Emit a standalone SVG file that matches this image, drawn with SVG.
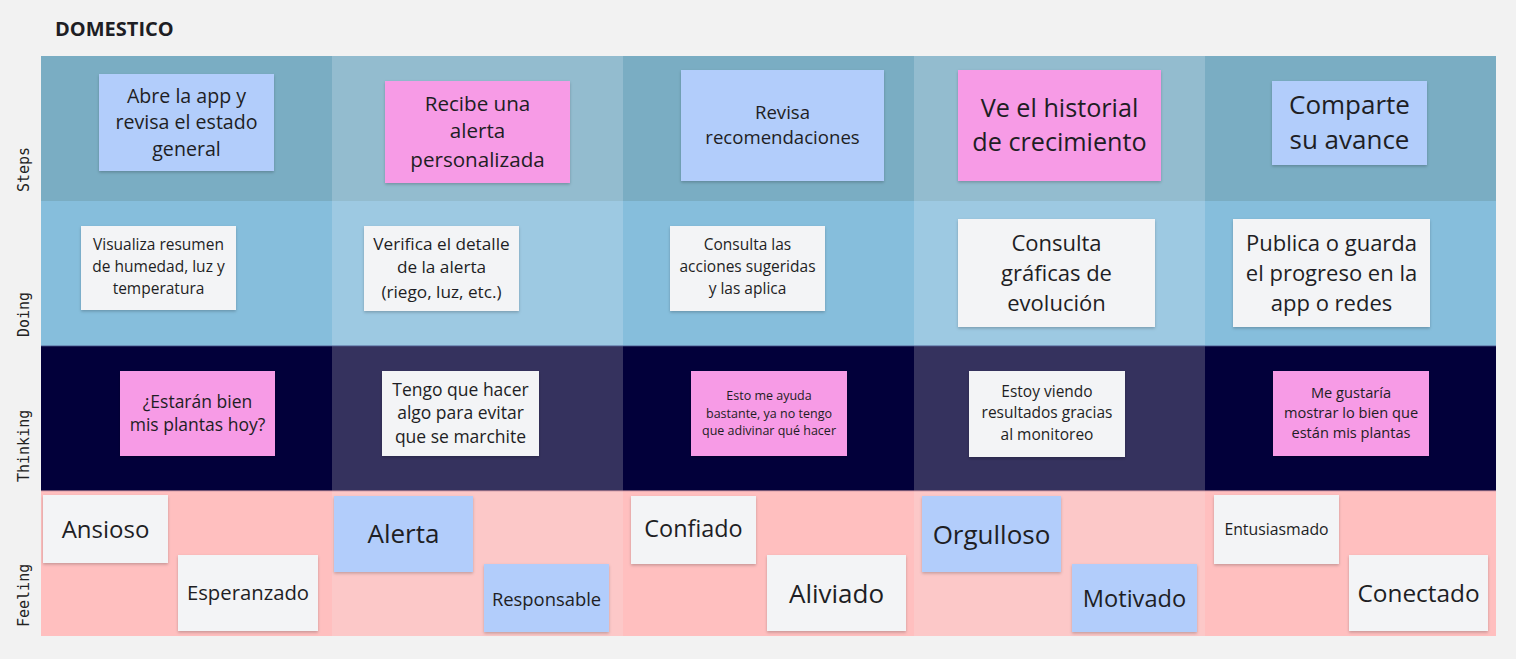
<svg xmlns="http://www.w3.org/2000/svg" width="1516" height="659" viewBox="0 0 1516 659">
<defs>
<filter id="sh" x="-10%" y="-10%" width="120%" height="130%">
<feDropShadow dx="0" dy="1.5" stdDeviation="1.5" flood-color="#000" flood-opacity="0.22"/>
</filter>
<style>
text{font-family:"Open Sans","Noto Sans","DejaVu Sans",sans-serif;fill:#1e1e24;text-anchor:middle}
.lbl{font-family:"DejaVu Sans Mono","Liberation Mono",monospace;font-size:15px;fill:#222;text-anchor:start}
.blue{fill:#b2cdfb}
.pink{fill:#f79be6}
.white{fill:#f3f4f6}
.n rect{filter:url(#sh)}
</style>
</defs>
<rect width="1516" height="659" fill="#f2f2f2"/>
<text x="55" y="36" style="font-weight:bold;font-size:20px;text-anchor:start" fill="#1a1a1a">DOMESTICO</text>

<g id="lanes">
<rect x="41" y="56" width="291" height="145" fill="#7aadc3"/>
<rect x="332" y="56" width="291" height="145" fill="#93bccf"/>
<rect x="623" y="56" width="291" height="145" fill="#7aadc3"/>
<rect x="914" y="56" width="291" height="145" fill="#93bccf"/>
<rect x="1205" y="56" width="291" height="145" fill="#7aadc3"/>
<rect x="41" y="201" width="291" height="145" fill="#86bedc"/>
<rect x="332" y="201" width="291" height="145" fill="#9dc9e2"/>
<rect x="623" y="201" width="291" height="145" fill="#86bedc"/>
<rect x="914" y="201" width="291" height="145" fill="#9dc9e2"/>
<rect x="1205" y="201" width="291" height="145" fill="#86bedc"/>
<rect x="41" y="346" width="291" height="145" fill="#02003a"/>
<rect x="332" y="346" width="291" height="145" fill="#35325e"/>
<rect x="623" y="346" width="291" height="145" fill="#02003a"/>
<rect x="914" y="346" width="291" height="145" fill="#35325e"/>
<rect x="1205" y="346" width="291" height="145" fill="#02003a"/>
<rect x="41" y="491" width="291" height="145" fill="#ffbfbf"/>
<rect x="332" y="491" width="291" height="145" fill="#fcc8c8"/>
<rect x="623" y="491" width="291" height="145" fill="#ffbfbf"/>
<rect x="914" y="491" width="291" height="145" fill="#fcc8c8"/>
<rect x="1205" y="491" width="291" height="145" fill="#ffbfbf"/>
<rect x="41" y="345" width="1455" height="1.5" fill="#5a6ea0" opacity="0.6"/>
<rect x="41" y="490" width="1455" height="1.5" fill="#c08a9a" opacity="0.6"/>
</g>

<g id="row-labels">
<text class="lbl" transform="translate(29,192) rotate(-90)">Steps</text>
<text class="lbl" transform="translate(29,337) rotate(-90)">Doing</text>
<text class="lbl" transform="translate(29,482) rotate(-90)">Thinking</text>
<text class="lbl" transform="translate(29,627) rotate(-90)">Feeling</text>
</g>

<g id="connectors"></g>

<!-- Steps -->
<g id="s1" class="n"><rect class="blue" x="99" y="74" width="175" height="97"/>
<text font-size="19.6"><tspan x="186.5" y="103">Abre la app y</tspan><tspan x="186.5" y="129">revisa el estado</tspan><tspan x="186.5" y="156">general</tspan></text></g>
<g id="s2" class="n"><rect class="pink" x="385" y="81" width="185" height="102"/>
<text font-size="20.6"><tspan x="477.5" y="111">Recibe una</tspan><tspan x="477.5" y="138">alerta</tspan><tspan x="477.5" y="167">personalizada</tspan></text></g>
<g id="s3" class="n"><rect class="blue" x="681" y="70" width="203" height="111"/>
<text font-size="18.6"><tspan x="782.5" y="119">Revisa</tspan><tspan x="782.5" y="144">recomendaciones</tspan></text></g>
<g id="s4" class="n"><rect class="pink" x="958" y="70" width="203" height="111"/>
<text font-size="25.2"><tspan x="1059.5" y="117">Ve el historial</tspan><tspan x="1059.5" y="151">de crecimiento</tspan></text></g>
<g id="s5" class="n"><rect class="blue" x="1272" y="81" width="155" height="84"/>
<text font-size="26"><tspan x="1349.5" y="114">Comparte</tspan><tspan x="1349.5" y="149">su avance</tspan></text></g>

<!-- Doing -->
<g id="d1" class="n"><rect class="white" x="81" y="226" width="155" height="84"/>
<text font-size="15.5"><tspan x="158.5" y="250">Visualiza resumen</tspan><tspan x="158.5" y="272">de humedad, luz y</tspan><tspan x="158.5" y="294">temperatura</tspan></text></g>
<g id="d2" class="n"><rect class="white" x="364" y="226" width="155" height="85"/>
<text font-size="17.2"><tspan x="441.5" y="250">Verifica el detalle</tspan><tspan x="441.5" y="273">de la alerta</tspan><tspan x="441.5" y="298">(riego, luz, etc.)</tspan></text></g>
<g id="d3" class="n"><rect class="white" x="670" y="226" width="155" height="85"/>
<text font-size="15.5"><tspan x="747.5" y="250">Consulta las</tspan><tspan x="747.5" y="272">acciones sugeridas</tspan><tspan x="747.5" y="294">y las aplica</tspan></text></g>
<g id="d4" class="n"><rect class="white" x="958" y="219" width="197" height="108"/>
<text font-size="22"><tspan x="1056.5" y="251">Consulta</tspan><tspan x="1056.5" y="281">gráficas de</tspan><tspan x="1056.5" y="311">evolución</tspan></text></g>
<g id="d5" class="n"><rect class="white" x="1233" y="219" width="197" height="108"/>
<text font-size="22"><tspan x="1331.5" y="251">Publica o guarda</tspan><tspan x="1331.5" y="281">el progreso en la</tspan><tspan x="1331.5" y="311">app o redes</tspan></text></g>

<!-- Thinking -->
<g id="t1" class="n"><rect class="pink" x="120" y="371" width="155" height="85"/>
<text font-size="17.5"><tspan x="197.5" y="408">¿Estarán bien</tspan><tspan x="197.5" y="431">mis plantas hoy?</tspan></text></g>
<g id="t2" class="n"><rect class="white" x="382" y="371" width="157" height="85"/>
<text font-size="17.5"><tspan x="460.5" y="396">Tengo que hacer</tspan><tspan x="460.5" y="419">algo para evitar</tspan><tspan x="460.5" y="443">que se marchite</tspan></text></g>
<g id="t3" class="n"><rect class="pink" x="691" y="371" width="156" height="85"/>
<text font-size="12.5"><tspan x="769" y="399.5">Esto me ayuda</tspan><tspan x="769" y="417.5">bastante, ya no tengo</tspan><tspan x="769" y="434.5">que adivinar qué hacer</tspan></text></g>
<g id="t4" class="n"><rect class="white" x="969" y="371" width="156" height="86"/>
<text font-size="15.5"><tspan x="1047" y="397">Estoy viendo</tspan><tspan x="1047" y="418">resultados gracias</tspan><tspan x="1047" y="440">al monitoreo</tspan></text></g>
<g id="t5" class="n"><rect class="pink" x="1273" y="371" width="156" height="85"/>
<text font-size="14.6"><tspan x="1351" y="398">Me gustaría</tspan><tspan x="1351" y="418">mostrar lo bien que</tspan><tspan x="1351" y="438">están mis plantas</tspan></text></g>

<!-- Feeling -->
<g id="f1" class="n"><rect class="white" x="43" y="495" width="125" height="68"/><text font-size="24" x="105.5" y="537.5">Ansioso</text></g>
<g id="f2" class="n"><rect class="white" x="178" y="555" width="140" height="76"/><text font-size="20.3" x="248" y="600">Esperanzado</text></g>
<g id="f3" class="n"><rect class="blue" x="334" y="496" width="139" height="76"/><text font-size="26" x="403.5" y="543">Alerta</text></g>
<g id="f4" class="n"><rect class="blue" x="484" y="564" width="125" height="68"/><text font-size="18.4" x="546.5" y="605.5">Responsable</text></g>
<g id="f5" class="n"><rect class="white" x="631" y="496" width="125" height="68"/><text font-size="23.4" x="693.5" y="537">Confiado</text></g>
<g id="f6" class="n"><rect class="white" x="767" y="555" width="139" height="76"/><text font-size="26" x="836.5" y="602.5">Aliviado</text></g>
<g id="f7" class="n"><rect class="blue" x="922" y="496" width="139" height="76"/><text font-size="26" x="991.5" y="543.5">Orgulloso</text></g>
<g id="f8" class="n"><rect class="blue" x="1072" y="564" width="125" height="68"/><text font-size="23.6" x="1134.5" y="606.5">Motivado</text></g>
<g id="f9" class="n"><rect class="white" x="1214" y="495" width="125" height="69"/><text font-size="15.8" x="1276.5" y="534.5">Entusiasmado</text></g>
<g id="f10" class="n"><rect class="white" x="1349" y="555" width="139" height="76"/><text font-size="24.4" x="1418.5" y="601.5">Conectado</text></g>
</svg>
